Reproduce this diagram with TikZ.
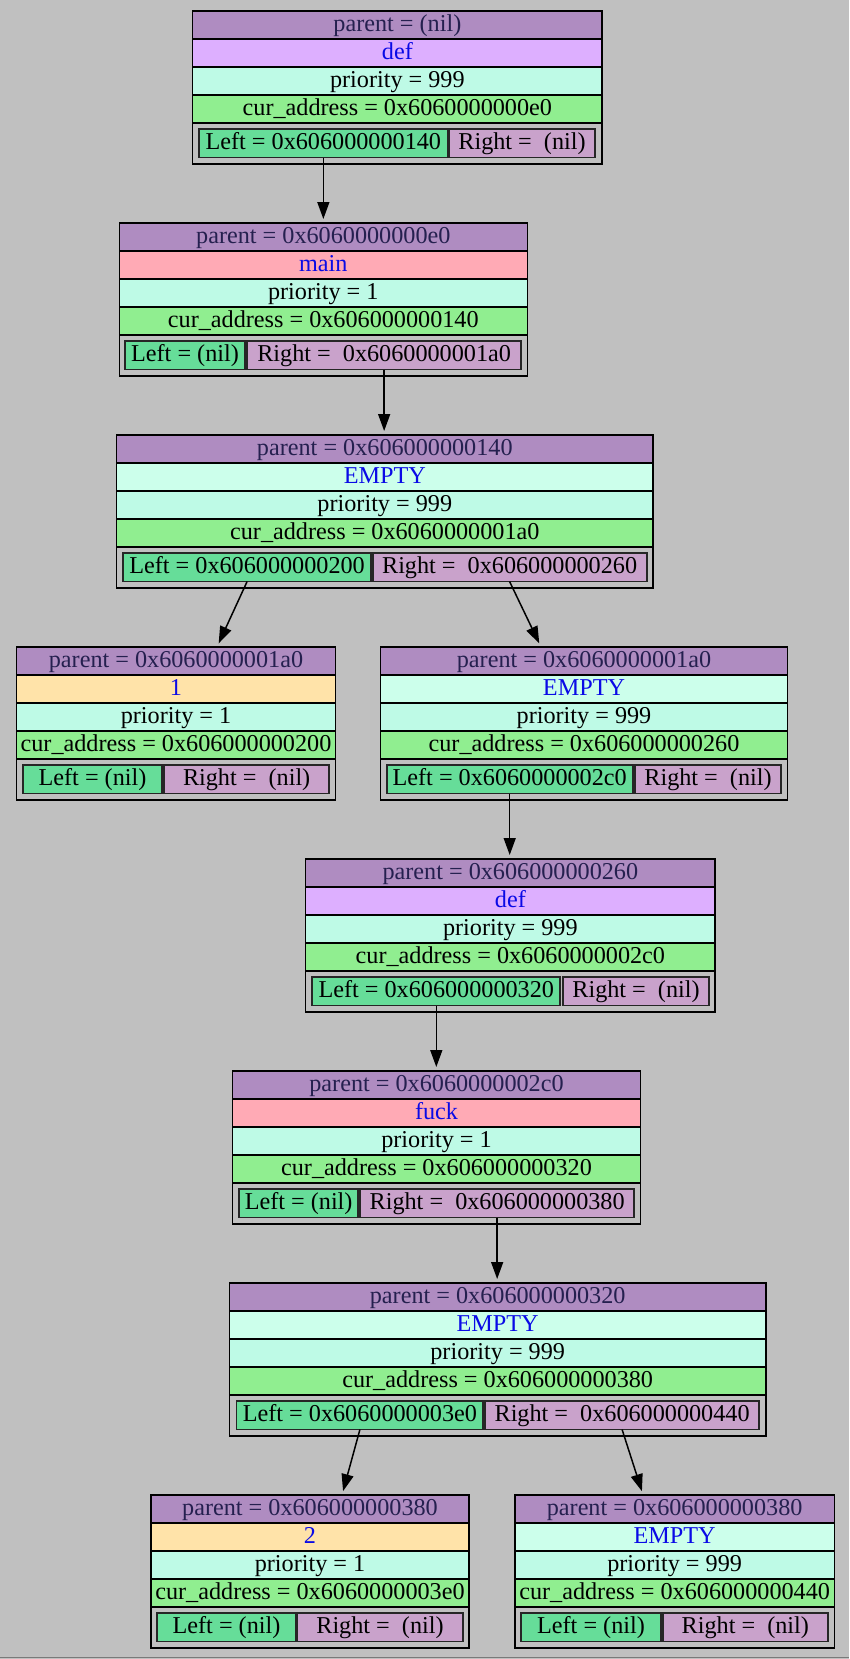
\documentclass[tikz,border=0pt]{standalone}
\usepackage{fontspec}
\setmainfont{Liberation Serif}
\usetikzlibrary{arrows.meta}

\definecolor{canvas}{HTML}{C0C0C0}
\definecolor{parentfill}{HTML}{AF8CC1}
\definecolor{parenttext}{HTML}{25204F}
\definecolor{deffill}{HTML}{DDAFFF}
\definecolor{mainfill}{HTML}{FFAAB5}
\definecolor{numfill}{HTML}{FFE3A9}
\definecolor{emptyfill}{HTML}{CCFFEB}
\definecolor{prioFill}{HTML}{BEFAE6}
\definecolor{curfill}{HTML}{90EE90}
\definecolor{leftfill}{HTML}{66DD99}
\definecolor{rightfill}{HTML}{C9A2CB}
\definecolor{nametext}{HTML}{0A0AE6}
\definecolor{framegray}{HTML}{7A7A7A}

\newcommand\rowfont{\fontsize{24.2}{28}\selectfont}

% one tree element: id, left x, right x, top y, colour of name row,
% parent, name, priority, current address
\newcommand\recnode[9]{%
  \node[outerbox, minimum width={#3-#2}, anchor=north] (#1) at ({(#2+#3)/2},#4) {};
  \node[rowbox, fill=parentfill, text=parenttext, minimum width={#3-#2}] (#1-p)
    at ({(#2+#3)/2},{#4+14}) {parent = #6};
  \node[rowbox, fill=#5, text=nametext, minimum width={#3-#2}] (#1-n)
    at ({(#2+#3)/2},{#4+42}) {#7};
  \node[rowbox, fill=prioFill, minimum width={#3-#2}] (#1-pr)
    at ({(#2+#3)/2},{#4+70}) {priority = #8};
  \node[rowbox, fill=curfill, minimum width={#3-#2}] (#1-c)
    at ({(#2+#3)/2},{#4+98}) {cur\_address = #9};
}

% the two child pointer fields: id, top y, left field x1 x2, right field x1 x2,
% left text, right text
\newcommand\recports[8]{%
  \node[portbox, fill=leftfill, minimum width={#4-#3}] (#1-L)
    at ({(#3+#4)/2},{#2+132.2}) {#7};
  \node[portbox, fill=rightfill, minimum width={#6-#5}] (#1-R)
    at ({(#5+#6)/2},{#2+132.2}) {#8};
}

\begin{document}
\begin{tikzpicture}[x=1pt, y=-1pt,
  outerbox/.style={draw=black, line width=1.5pt, fill=canvas,
    minimum height=153pt, inner sep=0pt, outer sep=0pt},
  rowbox/.style={draw=black, line width=1.5pt, minimum height=28pt,
    inner sep=0pt, outer sep=0pt, font=\rowfont, text=black,
    text height=17pt, text depth=4pt},
  portbox/.style={draw=black!85, line width=1.8pt, minimum height=28.7pt,
    inner sep=0pt, outer sep=0pt, font=\rowfont, text=black,
    text height=17pt, text depth=4pt},
  edge/.style={draw=black, line width=1.5pt,
    -{Triangle[length=17pt,width=12pt]}, shorten >=4pt}]

  % canvas
  \fill[canvas] (0,0) rectangle (849,1659);
  \useasboundingbox (0,0) rectangle (849,1659);
  \draw[framegray, line width=1pt] (0,1657.5) -- (849,1657.5);

  % elements
  \recnode{n1}{192.7}{602}{11}{deffill}{(nil)}{def}{999}{0x6060000000e0}
  \recports{n1}{11}{199}{447.7}{449}{595}{Left = 0x606000000140}{Right = \ (nil)}

  \recnode{n2}{119.3}{527.3}{223}{mainfill}{0x6060000000e0}{main}{1}{0x606000000140}
  \recports{n2}{223}{125.3}{244.7}{247.3}{521}{Left = (nil)}{Right = \ 0x6060000001a0}

  \recnode{n3}{116.4}{653.2}{435}{emptyfill}{0x606000000140}{EMPTY}{999}{0x6060000001a0}
  \recports{n3}{435}{123}{371.2}{372.6}{646.6}{Left = 0x606000000200}{Right = \ 0x606000000260}

  \recnode{n4}{16.7}{335.3}{647}{numfill}{0x6060000001a0}{1}{1}{0x606000000200}
  \recports{n4}{647}{22.7}{162.3}{164.3}{329}{Left = (nil)}{Right = \ (nil)}

  \recnode{n5}{380.7}{787.3}{647}{emptyfill}{0x6060000001a0}{EMPTY}{999}{0x606000000260}
  \recports{n5}{647}{386.7}{632.7}{635}{781}{Left = 0x6060000002c0}{Right = \ (nil)}

  \recnode{n6}{305.7}{715}{859}{deffill}{0x606000000260}{def}{999}{0x6060000002c0}
  \recports{n6}{859}{312.3}{560.3}{563.3}{708.7}{Left = 0x606000000320}{Right = \ (nil)}

  \recnode{n7}{232.3}{640.7}{1071}{mainfill}{0x6060000002c0}{fuck}{1}{0x606000000320}
  \recports{n7}{1071}{239}{358.3}{360.3}{634}{Left = (nil)}{Right = \ 0x606000000380}

  \recnode{n8}{229.6}{765.8}{1283}{emptyfill}{0x606000000320}{EMPTY}{999}{0x606000000380}
  \recports{n8}{1283}{236.5}{483.3}{485.3}{758.9}{Left = 0x6060000003e0}{Right = \ 0x606000000440}

  \recnode{n9}{151}{469}{1495}{numfill}{0x606000000380}{2}{1}{0x6060000003e0}
  \recports{n9}{1495}{157.3}{295.7}{297.3}{462.7}{Left = (nil)}{Right = \ (nil)}

  \recnode{n10}{515}{834.3}{1495}{emptyfill}{0x606000000380}{EMPTY}{999}{0x606000000440}
  \recports{n10}{1495}{521.3}{660.7}{663}{827.7}{Left = (nil)}{Right = \ (nil)}

  % child links
  \draw[edge] (n1-L.south) -- (n2.north -| n1-L.south);
  \draw[edge] (n2-R.south) -- (n3.north -| n2-R.south);
  \draw[edge] (n3-L.south) -- ([xshift=41pt]n4.north);
  \draw[edge] (n3-R.south) -- ([xshift=-43pt]n5.north);
  \draw[edge] (n5-L.south) -- (n6.north -| n5-L.south);
  \draw[edge] (n6-L.south) -- (n7.north -| n6-L.south);
  \draw[edge] (n7-R.south) -- (n8.north -| n7-R.south);
  \draw[edge] (n8-L.south) -- ([xshift=32pt]n9.north);
  \draw[edge] (n8-R.south) -- ([xshift=-31.5pt]n10.north);
\end{tikzpicture}
\end{document}
